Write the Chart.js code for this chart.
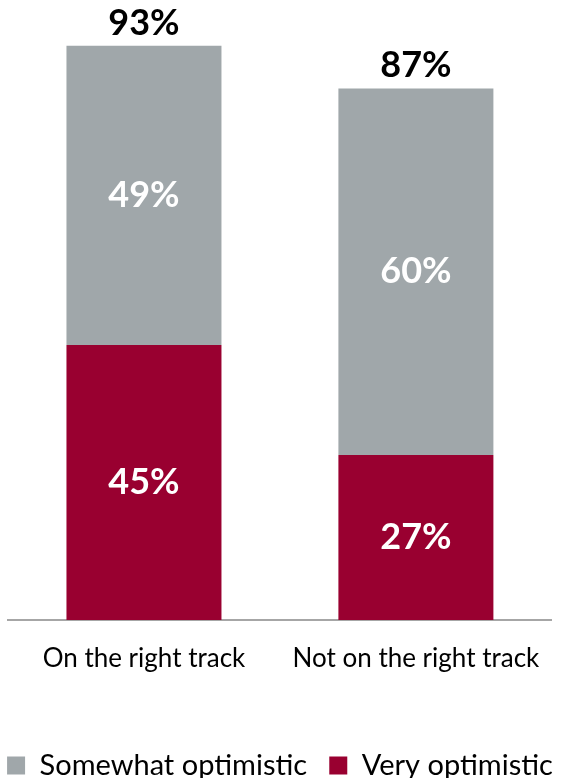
<!DOCTYPE html>
<html lang="en">
<head>
<meta charset="UTF-8"/>
<title>Optimism by track</title>
<script src="https://cdn.jsdelivr.net/npm/chart.js"></script>
<style>
    html, body { margin: 0; padding: 0; background: #fff; }
    #wrap { width: 563px; height: 778px; }
</style>
</head>
<body>
<div id="wrap"><canvas id="grafico"></canvas></div>
<script>
    // dados do gráfico
    const categorias = ['On the right track', 'Not on the right track'];
    const muitoOtimista = [45, 27];
    const algoOtimista = [49, 60];
    const totais = [93, 87];

    const FONTE = 'Lato, "Open Sans", sans-serif';

    // escreve os valores dentro das barras e o total em cima
    const rotulos = {
        id: 'rotulos',
        afterDatasetsDraw(chart) {
            const ctx = chart.ctx;
            ctx.save();
            ctx.textAlign = 'center';
            ctx.textBaseline = 'middle';
            ctx.font = 'bold 36px ' + FONTE;
            chart.data.datasets.forEach((ds, i) => {
                chart.getDatasetMeta(i).data.forEach((bar, j) => {
                    ctx.fillStyle = '#ffffff';
                    ctx.fillText(ds.data[j] + '%', bar.x, (bar.y + bar.base) / 2);
                });
            });
            ctx.fillStyle = '#000000';
            ctx.textBaseline = 'alphabetic';
            chart.getDatasetMeta(1).data.forEach((bar, j) => {
                ctx.fillText(totais[j] + '%', bar.x, bar.y - 11);
            });
            ctx.restore();
        }
    };

    new Chart(document.getElementById('grafico'), {
        type: 'bar',
        data: {
            labels: categorias,
            datasets: [
                {
                    label: 'Very optimistic',
                    data: muitoOtimista,
                    backgroundColor: '#990030'
                },
                {
                    label: 'Somewhat optimistic',
                    data: algoOtimista,
                    backgroundColor: '#a0a7aa'
                }
            ]
        },
        options: {
            responsive: true,
            maintainAspectRatio: false,
            animation: false,
            layout: { padding: { left: 0, right: 3, top: 9, bottom: -12 } },
            datasets: { bar: { categoryPercentage: 0.57, barPercentage: 1 } },
            scales: {
                x: {
                    stacked: true,
                    grid: { display: false, drawTicks: false },
                    border: { color: '#a6a6a6', width: 2 },
                    ticks: { color: '#000', font: { family: FONTE, size: 26 }, padding: 23 },
                    afterFit(scale) { scale.height = 127; }
                },
                y: {
                    stacked: true,
                    min: 0,
                    max: 100,
                    grid: { display: false, drawTicks: false },
                    border: { display: false },
                    ticks: { display: false },
                    afterFit(scale) { scale.width = 8; }
                }
            },
            plugins: {
                legend: {
                    position: 'bottom',
                    reverse: true,
                    labels: {
                        color: '#000',
                        boxWidth: 18,
                        boxHeight: 18,
                        padding: 4,
                        font: { family: FONTE, size: 29 },
                        // espaço extra depois do primeiro item da legenda
                        generateLabels(chart) {
                            const itens = Chart.defaults.plugins.legend.labels.generateLabels(chart);
                            itens.forEach(it => {
                                if (it.datasetIndex === 1) it.text += '\u2002\u2009';
                            });
                            return itens;
                        }
                    }
                },
                tooltip: { enabled: false }
            }
        },
        plugins: [rotulos]
    });
</script>
</body>
</html>
